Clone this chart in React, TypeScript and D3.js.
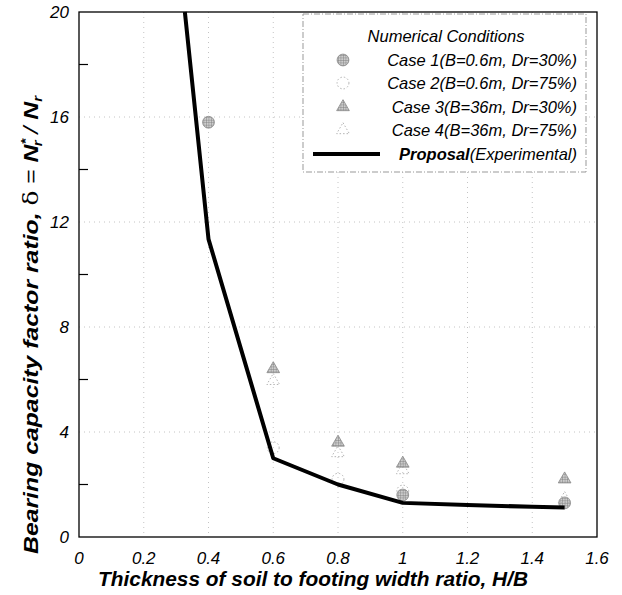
import React from "react";
import * as d3 from "d3";

const xTicks = [0, 0.2, 0.4, 0.6, 0.8, 1, 1.2, 1.4, 1.6];
const yTicks = [0, 4, 8, 12, 16, 20];
const yMinorTicks = [2, 6, 10, 14, 18];

const proposalX = [0.327, 0.4, 0.6, 0.8, 1.0, 1.2, 1.4, 1.5];
const proposalY = [20, 11.35, 3.0, 2.0, 1.3, 1.22, 1.15, 1.12];

const case1 = [[0.4, 15.8], [1.0, 1.6], [1.5, 1.3]];
const case2 = [[0.6, 3.4], [0.8, 2.2], [1.0, 1.75]];
const case3 = [[0.6, 6.4], [0.8, 3.6], [1.0, 2.8], [1.5, 2.2]];
const case4 = [[0.6, 5.95], [0.8, 3.2], [1.0, 2.55], [1.5, 1.45]];

const legendLabels = [
  "Case 1(B=0.6m, Dr=30%)",
  "Case 2(B=0.6m, Dr=75%)",
  "Case 3(B=36m, Dr=30%)",
  "Case 4(B=36m, Dr=75%)",
];

const FONT = "'Liberation Sans', Arial, Helvetica, sans-serif";

export default function App() {
  const left = 79, right = 597, top = 12, bottom = 537;
  const x = d3.scaleLinear().domain([0, 1.6]).range([left, right]);
  const y = d3.scaleLinear().domain([0, 20]).range([bottom, top]);
  const line = d3.line<number>().x((_, i) => x(proposalX[i])).y((d) => y(d));

  const tri = d3.symbol().type(d3.symbolTriangle).size(70)();
  const circ = d3.symbol().type(d3.symbolCircle).size(110)();

  const marker = (kind: number, cx: number, cy: number, key: string) => {
    const t = `translate(${cx},${cy})`;
    if (kind === 1)
      return <path key={key} d={circ!} transform={t} fill="url(#hatch)" stroke="#888" strokeWidth={0.8} />;
    if (kind === 2)
      return <path key={key} d={circ!} transform={t} fill="none" stroke="#aaa" strokeWidth={0.9} strokeDasharray="1.5,2" />;
    if (kind === 3)
      return <path key={key} d={tri!} transform={t} fill="url(#hatch)" stroke="#888" strokeWidth={0.8} />;
    return <path key={key} d={tri!} transform={t} fill="none" stroke="#aaa" strokeWidth={0.9} strokeDasharray="1.5,2" />;
  };

  const series = [case1, case2, case3, case4];
  const legendY = [60, 83, 107, 130];

  return (
    <svg width={622} height={595} style={{ position: "fixed", left: 0, top: 0, background: "#fff" }} fontFamily={FONT}>
      <defs>
        <pattern id="hatch" width={2.5} height={2.5} patternUnits="userSpaceOnUse">
          <rect width={2.5} height={2.5} fill="#ccc" />
          <path d="M0,0H2.5M0,0V2.5" stroke="#777" strokeWidth={0.8} />
        </pattern>
      </defs>
      <rect width={622} height={595} fill="#fff" />
      {/* grid */}
      {xTicks.slice(1, -1).map((t) => (
        <line key={"gx" + t} x1={x(t)} x2={x(t)} y1={top} y2={bottom} stroke="#c4c4c4" strokeWidth={1} strokeDasharray="1,4" />
      ))}
      {yTicks.slice(1, -1).map((t) => (
        <line key={"gy" + t} x1={left} x2={right} y1={y(t)} y2={y(t)} stroke="#c4c4c4" strokeWidth={1} strokeDasharray="1,4" />
      ))}
      {/* frame */}
      <rect x={left} y={top} width={right - left} height={bottom - top} fill="none" stroke="#000" strokeWidth={1.3} />
      {yMinorTicks.map((t) => (
        <line key={"my" + t} x1={left} x2={left + 9} y1={y(t)} y2={y(t)} stroke="#000" strokeWidth={1.2} />
      ))}
      {/* tick labels */}
      {yTicks.map((t) => (
        <text key={"yl" + t} x={left - 10} y={y(t)} dy="0.36em" textAnchor="end" fontSize={17} fontStyle="italic">
          {t}
        </text>
      ))}
      {xTicks.map((t) => (
        <text key={"xl" + t} x={x(t)} y={564} textAnchor="middle" fontSize={17} fontStyle="italic">
          {t}
        </text>
      ))}
      {/* markers */}
      {series.map((s, si) => s.map((p, pi) => marker(si + 1, x(p[0]), y(p[1]), `m${si}-${pi}`)))}
      {/* proposal */}
      <path d={line(proposalY)!} fill="none" stroke="#000" strokeWidth={4} strokeLinejoin="round" />
      {/* legend */}
      <rect x={303} y={14} width={283} height={158} fill="#fff" stroke="#999" strokeWidth={1} strokeDasharray="6,2,1,2" />
      <text x={446} y={42} textAnchor="middle" fontSize={16.5} fontStyle="italic">Numerical Conditions</text>
      {legendLabels.map((l, i) => (
        <g key={"lg" + i}>
          {marker(i + 1, 343, legendY[i], "lm" + i)}
          <text x={577} y={legendY[i]} dy="0.36em" textAnchor="end" fontSize={16.5} fontStyle="italic">{l}</text>
        </g>
      ))}
      <line x1={313} x2={380} y1={154} y2={154} stroke="#000" strokeWidth={4} />
      <text x={577} y={154} dy="0.36em" textAnchor="end" fontSize={16.5} fontStyle="italic">
        <tspan fontWeight="bold">Proposal</tspan>(Experimental)
      </text>
      {/* axis titles */}
      <text x={313} y={586} textAnchor="middle" fontSize={20} fontStyle="italic" fontWeight="bold" textLength={430} lengthAdjust="spacingAndGlyphs">
        Thickness of soil to footing width ratio, H/B
      </text>
      <text transform="translate(38,325) rotate(-90)" textAnchor="middle" fontSize={20} fontStyle="italic" fontWeight="bold" textLength={458} lengthAdjust="spacingAndGlyphs">
        Bearing capacity factor ratio, <tspan fontWeight="normal" fontStyle="normal" fontFamily="'DejaVu Serif', serif">δ</tspan>
        <tspan fontWeight="normal" fontStyle="normal"> = </tspan>N<tspan fontSize={12} dy={-8}>*</tspan>
        <tspan fontSize={12} dy={12} dx={-6}>r</tspan>
        <tspan dy={-4} fontWeight="normal"> / </tspan>N<tspan fontSize={12} dy={4}>r</tspan>
      </text>
    </svg>
  );
}
